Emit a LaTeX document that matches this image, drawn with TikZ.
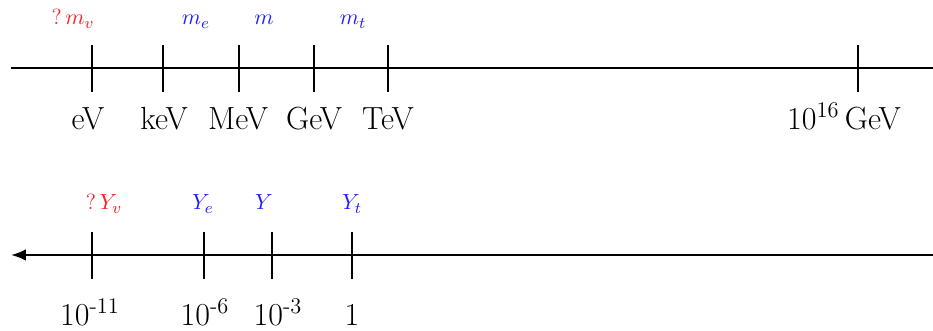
\documentclass[tikz,border=0pt]{standalone}
\usepackage{amsmath,amssymb}
\usepackage{xcolor}
\usepackage{tikz}
\usetikzlibrary{arrows.meta,positioning,calc}
\definecolor{ink}{RGB}{0,0,0}
\definecolor{hotred}{RGB}{255,30,30}
\definecolor{deepblue}{RGB}{30,30,255}
\tikzset{
  axis/.style={line width=1pt,ink},
  tick/.style={line width=0.9pt,ink},
  unit/.style={font=\fontsize{16}{19}\selectfont,text=ink,anchor=base,inner sep=0pt},
  known/.style={font=\fontsize{11}{13}\selectfont,text=deepblue,anchor=base,inner sep=0pt},
  unknown/.style={font=\fontsize{11}{13}\selectfont,text=hotred,anchor=base,inner sep=0pt}
}

\begin{document}
\begin{tikzpicture}[x=0.5pt,y=0.5pt]
  \useasboundingbox (0,0) rectangle (933,331);
  % mass scale
  \coordinate (mleft) at (11,263);
  \coordinate (mright) at (933,263);
  \draw[axis] (mleft) -- (mright);
  \foreach \name/\x in {ev/92,kev/163,mev/239,gev/314,tev/388,gut/858}
    \draw[tick] (\x,286) coordinate (\name top) -- (\x,239) coordinate (\name bot);
  \node[unit] (evlab) at (88,201) {eV};
  \node[unit] (kevlab) at (164,201) {keV};
  \node[unit] (mevlab) at (238,201) {MeV};
  \node[unit] (gevlab) at (314,201) {GeV};
  \node[unit] (tevlab) at (388,201) {TeV};
  \node[unit] (gutlab) at (844,201) {10\textsuperscript{16}\,GeV};
  \node[unknown] (mnu) at (73,306) {?\,$m_v$};
  \node[known] (me) at (196,306) {$m_e$};
  \node[known] (mmu) at (264,306) {$m$};
  \node[known] (mtau) at (353,306) {$m_t$};
  % yukawa scale
  \coordinate (yright) at (933,76);
  \coordinate (yleft) at (11,76);
  \draw[axis,-{Latex[length=2.6mm,width=2mm]}] (yright) -- (yleft);
  \foreach \name/\x in {ynu/92,ye/204,ymu/272,yt/352}
    \draw[tick] (\x,99) coordinate (\name top) -- (\x,52) coordinate (\name bot);
  \node[unit] (ynulab) at (90,5) {10\textsuperscript{-11}};
  \node[unit] (yelab) at (205,5) {10\textsuperscript{-6}};
  \node[unit] (ymulab) at (278,5) {10\textsuperscript{-3}};
  \node[unit] (ytlab) at (352,5) {1};
  \node[unknown] (Ynu) at (104,121) {?\,$Y_v$};
  \node[known] (Ye) at (203,121) {$Y_e$};
  \node[known] (Ymu) at (264,121) {$Y$};
  \node[known] (Yt) at (352,121) {$Y_t$};
\end{tikzpicture}
\end{document}
